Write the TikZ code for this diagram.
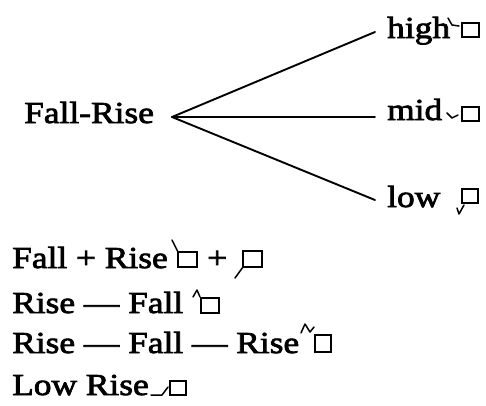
\documentclass[tikz,border=0pt]{standalone}
\usepackage{fontspec}
\setmainfont{Liberation Serif}[FakeStretch=1.16,FakeBold=2.5]
\begin{document}
\begin{tikzpicture}[x=1pt,y=-1pt,
  lbl/.style={anchor=base west,inner sep=0pt,font=\fontsize{30.5}{32}\selectfont},
  branch/.style={line width=1.9pt,line cap=round},
  tonebox/.style={line width=1.6pt},
  tonemark/.style={line width=1.5pt,line cap=round,line join=round}]
\useasboundingbox (0,0) rectangle (486,405);
% tree
\node[lbl] (fr) at (24,123) {Fall-Rise};
\coordinate (apex) at (172,117);
\coordinate (eh) at (375,32);
\coordinate (em) at (375,117);
\coordinate (el) at (375,200);
\draw[branch] (apex) -- (eh);
\draw[branch] (apex) -- (em);
\draw[branch] (apex) -- (el);
\node[lbl] (high) at (387,38) {high};
\node[lbl] (mid) at (387,120) {mid};
\node[lbl] (low) at (387,207) {low};
\draw[tonemark] (448,18) -- (452,25) -- (459,26);
\draw[tonebox] (462,23) rectangle (479,37);
\draw[tonemark] (447,113) -- (452,118) -- (458,115);
\draw[tonebox] (462,107) rectangle (479,121);
\draw[tonemark] (457,208) -- (459,214) -- (464,205);
\draw[tonebox] (462,189) rectangle (478,203);
% list
\node[lbl] (l1) at (12,268) {Fall + Rise};
\draw[tonemark] (172,240) -- (178,252);
\draw[tonebox] (178,252) rectangle (197,267);
\node[lbl] (plus) at (207,268) {+};
\draw[tonemark] (235,278) -- (243,267);
\draw[tonebox] (243,251) rectangle (262,267);
\node[lbl] (l2) at (12,313) {Rise — Fall};
\draw[tonemark] (193,297) -- (197,290) -- (200,297);
\draw[tonebox] (201,298) rectangle (219,313);
\node[lbl] (l3) at (12,353) {Rise — Fall — Rise};
\draw[tonemark] (301,333) -- (305,324) -- (310,332) -- (314,327);
\draw[tonebox] (315,335) rectangle (331,352);
\node[lbl] (l4) at (12,395) {Low Rise};
\draw[tonemark] (151,395) -- (162,395) -- (168,387);
\draw[tonebox] (170,381) rectangle (186,395);
\end{tikzpicture}
\end{document}
